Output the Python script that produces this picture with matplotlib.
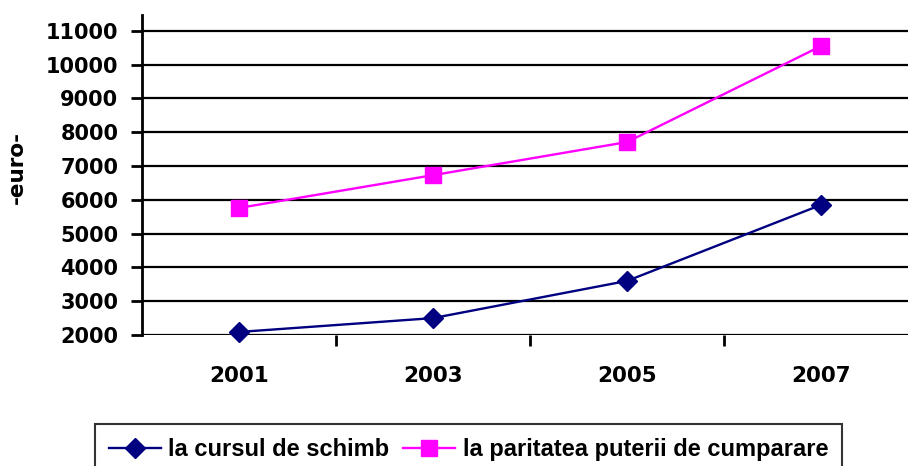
import matplotlib.pyplot as plt
import numpy as np

plt.rcParams['font.family'] = ['DejaVu Sans']
plt.rcParams['font.weight'] = 'bold'

# data
years = ["2001", "2003", "2005", "2007"]
curs_schimb = [2090, 2500, 3600, 5850]
paritate = [5760, 6730, 7710, 10550]
yticks = [2000, 3000, 4000, 5000, 6000, 7000, 8000, 9000, 10000, 11000]

fig = plt.figure(figsize=(9.08, 4.66), dpi=100)
ax = fig.add_axes([142/908, 1-335/466, 776/908, 320/466])

x = np.arange(len(years))
ax.plot(x, curs_schimb, color="#000080", marker="D", markersize=10, lw=1.7,
        label="la cursul de schimb", clip_on=False, zorder=3)
ax.plot(x, paritate, color="#ff00ff", marker="s", markersize=11, lw=1.7,
        label="la paritatea puterii de cumparare", clip_on=False, zorder=3)

ax.set_xlim(-0.5, 3.5)
ax.set_ylim(2000, 11470)
ax.set_yticks(yticks)
ax.set_yticklabels([str(v) for v in yticks], fontsize=15, fontweight='bold')
ax.set_xticks(x)
ax.set_xticklabels(years, fontsize=15.5, fontweight='bold')
ax.set_xticks([0.5, 1.5, 2.5], minor=True)
ax.tick_params(axis='x', which='major', length=0, pad=22)
ax.tick_params(axis='x', which='minor', length=8, width=2, direction='out')
ax.tick_params(axis='y', length=8, width=2, direction='out', pad=9)

for v in yticks:
    ax.axhline(v, color="black", lw=1.6, zorder=1)

for s in ['top', 'right', 'bottom']:
    ax.spines[s].set_visible(False)
ax.spines['left'].set_linewidth(2)

fig.text(17/908, 1-168/466, "-euro-", rotation=90, fontsize=15.5,
         fontweight='bold', ha='center', va='center')

leg = fig.legend(loc='upper left', bbox_to_anchor=(95/908, 1-424/466),
                 ncol=2, frameon=True, fancybox=False,
                 prop={'family': 'Liberation Sans', 'weight': 'bold', 'size': 17},
                 edgecolor='black', borderpad=0.6, handlelength=2.2,
                 columnspacing=0.6, handletextpad=0.3, borderaxespad=0)
leg.get_frame().set_linewidth(1.5)

fig.savefig("out.png", dpi=100)
